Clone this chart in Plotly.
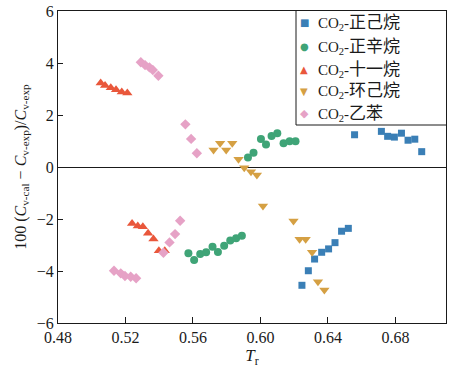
import plotly.graph_objects as go

# ---- data ----
hexane_x = [0.6246, 0.6284, 0.6321, 0.6363, 0.6404, 0.6442, 0.6481, 0.6521,
            0.6558, 0.6717, 0.6754, 0.6794, 0.6836, 0.6875, 0.6915, 0.6956]
hexane_y = [-4.55, -3.99, -3.54, -3.28, -3.15, -2.91, -2.47, -2.36,
            1.24, 1.37, 1.18, 1.15, 1.30, 1.03, 1.07, 0.59]

octane_x = [0.5573, 0.5607, 0.5643, 0.5678, 0.5716, 0.5748, 0.5785, 0.5821, 0.5856, 0.5890,
            0.5926, 0.5959, 0.6003, 0.6033, 0.6066, 0.6100, 0.6137, 0.6173, 0.6208]
octane_y = [-3.32, -3.58, -3.35, -3.28, -3.07, -3.27, -3.03, -2.83, -2.74, -2.64,
            0.37, 0.55, 1.08, 0.87, 1.19, 1.30, 0.91, 0.99, 0.99]

undecane_x = [0.5053, 0.5079, 0.5113, 0.5144, 0.5178, 0.5211,
              0.5239, 0.5273, 0.5303, 0.5334, 0.5366, 0.5398, 0.5433]
undecane_y = [3.23, 3.13, 3.05, 2.97, 2.88, 2.85,
              -2.17, -2.27, -2.30, -2.55, -2.77, -3.22, -3.22]

cyclohexane_x = [0.5722, 0.5761, 0.5797, 0.5833, 0.5870, 0.5904, 0.5944, 0.5979, 0.6015,
                 0.6196, 0.6232, 0.6268, 0.6306, 0.6341, 0.6379]
cyclohexane_y = [0.65, 0.91, 0.65, 0.91, 0.30, -0.03, -0.18, -0.31, -1.50,
                 -2.08, -2.78, -2.78, -3.28, -4.41, -4.73]

ethylbenzene_x = [0.5132, 0.5172, 0.5197, 0.5231, 0.5263,
                  0.5291, 0.5316, 0.5342, 0.5362, 0.5395,
                  0.5425, 0.5461, 0.5494, 0.5524,
                  0.5555, 0.5589, 0.5623]
ethylbenzene_y = [-3.99, -4.09, -4.19, -4.22, -4.28,
                  4.03, 3.92, 3.83, 3.73, 3.51,
                  -3.30, -2.90, -2.58, -2.07,
                  1.64, 1.08, 0.53]

solvent_names = ["正己烷", "正辛烷", "十一烷", "环己烷", "乙苯"]
x_ticks = [0.48, 0.52, 0.56, 0.60, 0.64, 0.68]
x_tick_labels = ["0.48", "0.52", "0.56", "0.60", "0.64", "0.68"]
y_ticks = [-6, -4, -2, 0, 2, 4, 6]

FONT = "Liberation Serif, Times New Roman, Noto Sans CJK SC, serif"
INK = "#1a1a1a"

series = [
    (hexane_x, hexane_y, "square", "#3a7fb6", 7, "■", 10),
    (octane_x, octane_y, "circle", "#3fa477", 8, "●", 10),
    (undecane_x, undecane_y, "triangle-up", "#e9573b", 9, "▲", 10),
    (cyclohexane_x, cyclohexane_y, "triangle-down", "#d5a043", 9, "▼", 10),
    (ethylbenzene_x, ethylbenzene_y, "diamond", "#e6a2c6", 8, "◆", 11),
]

fig = go.Figure()
for (xs, ys, sym, col, sz, _, _), name in zip(series, solvent_names):
    fig.add_trace(go.Scatter(
        x=xs, y=ys, mode="markers", name="CO2-" + name, showlegend=False,
        marker=dict(symbol=sym, color=col, size=sz, line=dict(width=0)),
    ))

# ---- hand-built legend (box + glyph + label) ----
plot_l, plot_r, plot_t, plot_b = 58, 446, 11, 323
W, H = 455, 370


def px_x(p):
    return (p - plot_l) / (plot_r - plot_l)


def px_y(p):
    return (plot_b - p) / (plot_b - plot_t)


bx0, bx1, by0, by1 = px_x(296), 1.0, px_y(125), 1.0
box_edges = [(bx0, by0, bx0, by1), (bx0, by0, bx1, by0)]
for (a, b, c, d) in box_edges:
    fig.add_shape(type="line", xref="paper", yref="paper", x0=a, y0=b, x1=c, y1=d,
                  line=dict(color=INK, width=1), layer="above")

row_y = [23, 46.5, 69.5, 91.5, 113.5]
for (_, _, _, col, _, glyph, gsz), name, ry in zip(series, solvent_names, row_y):
    fig.add_annotation(xref="paper", yref="paper", x=px_x(304), y=px_y(ry),
                       text=glyph, showarrow=False, xanchor="center", yanchor="middle",
                       font=dict(family="DejaVu Sans", size=gsz, color=col))
    fig.add_annotation(xref="paper", yref="paper", x=px_x(316), y=px_y(ry),
                       text="CO<sub>2</sub>-<span style='font-size:17px'>" + name + "</span>",
                       showarrow=False, xanchor="left", yanchor="middle",
                       font=dict(family=FONT, size=15, color=INK))

fig.update_layout(
    width=W, height=H,
    margin=dict(l=plot_l, r=W - plot_r, t=plot_t, b=H - plot_b),
    paper_bgcolor="white", plot_bgcolor="white",
    font=dict(family=FONT, size=16, color=INK),
    showlegend=False,
    xaxis=dict(
        range=[0.48, 0.71], tickmode="array", tickvals=x_ticks, ticktext=x_tick_labels,
        ticks="inside", ticklen=6, tickwidth=1, tickcolor=INK,
        showline=True, linecolor=INK, linewidth=1.2, mirror=True,
        showgrid=False, zeroline=False, automargin=False,
        title=dict(text="<i>T</i><sub>r</sub>", standoff=2, font=dict(size=17)),
    ),
    yaxis=dict(
        range=[-6, 6], tickmode="array", tickvals=y_ticks,
        ticks="inside", ticklen=5, tickwidth=1, tickcolor=INK,
        showline=True, linecolor=INK, linewidth=1.2, mirror=True,
        showgrid=False, zeroline=True, zerolinecolor=INK, zerolinewidth=1.2,
        automargin=False,
        title=dict(text="100 (<i>C</i><sub>v-cal</sub> − <i>C</i><sub>v-exp</sub>)/<i>C</i><sub>v-exp</sub>",
                   standoff=6, font=dict(size=16)),
    ),
)

fig.write_html("out.html", config={"displayModeBar": False},
               post_script="document.body.style.margin='0';document.body.style.overflow='hidden';")
